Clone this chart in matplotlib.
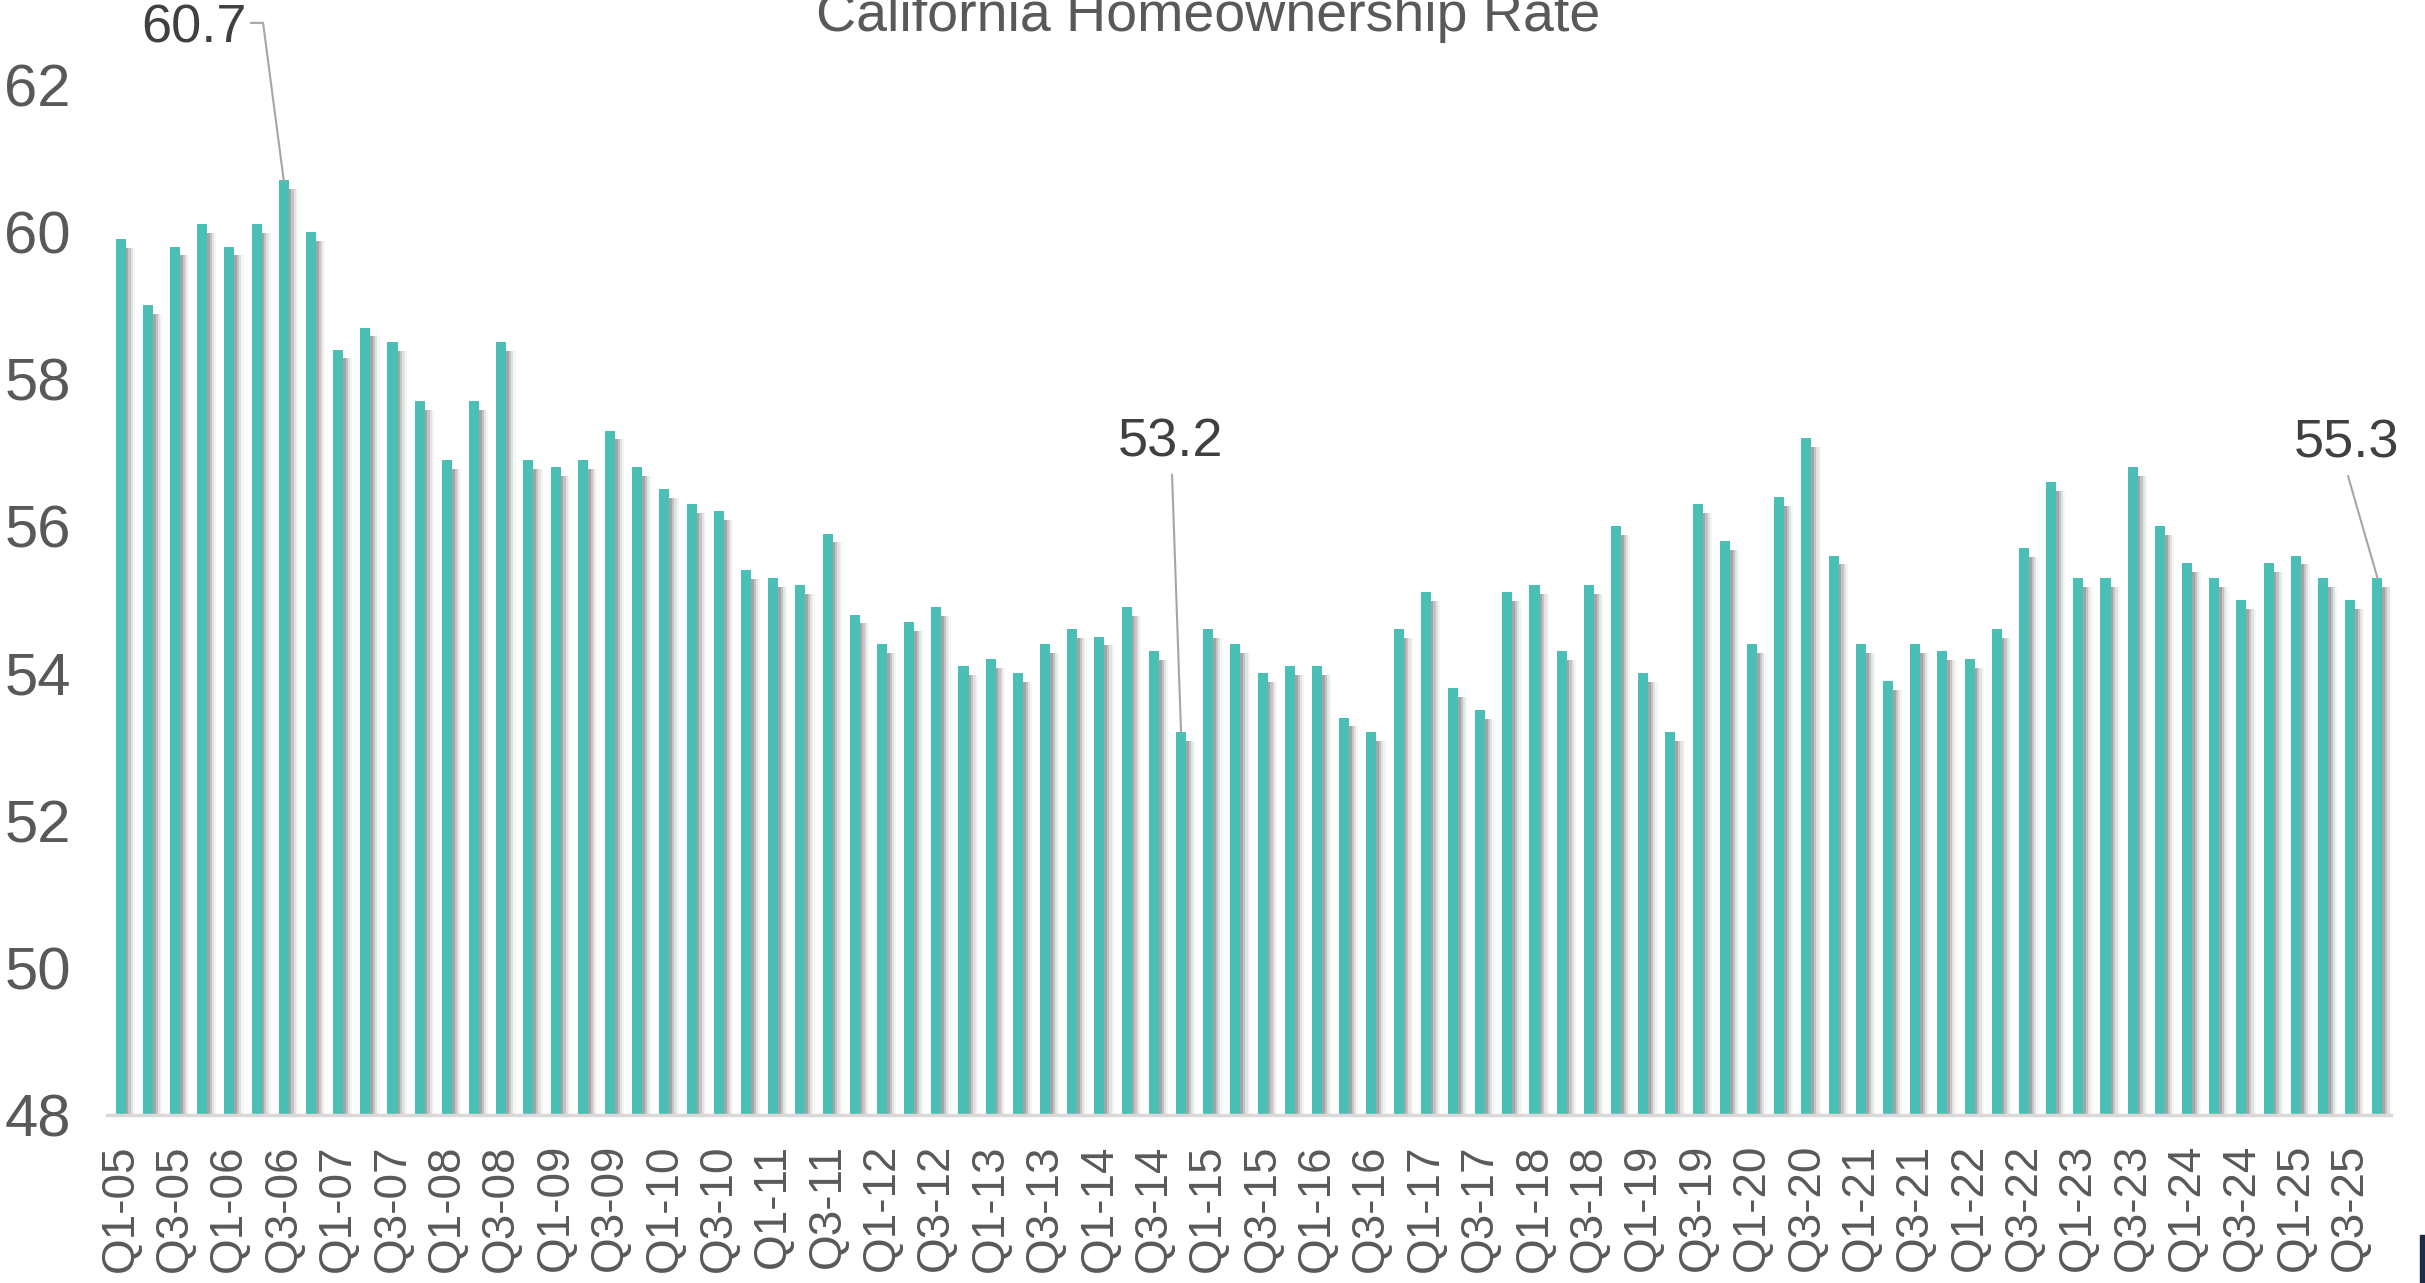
"""California homeownership rate, quarterly bars."""
import matplotlib
matplotlib.use("Agg")
import matplotlib.pyplot as plt
from matplotlib import font_manager
from matplotlib.patches import Rectangle
import numpy as np

# data
years = list(range(5, 26))
quarters = [f"Q{q}-{y:02d}" for y in years for q in (1, 2, 3, 4)]
rates = [
    59.9, 59.0, 59.8, 60.1,  # 2005
    59.8, 60.1, 60.7, 60.0,  # 2006
    58.4, 58.7, 58.5, 57.7,  # 2007
    56.9, 57.7, 58.5, 56.9,  # 2008
    56.8, 56.9, 57.3, 56.8,  # 2009
    56.5, 56.3, 56.2, 55.4,  # 2010
    55.3, 55.2, 55.9, 54.8,  # 2011
    54.4, 54.7, 54.9, 54.1,  # 2012
    54.2, 54.0, 54.4, 54.6,  # 2013
    54.5, 54.9, 54.3, 53.2,  # 2014
    54.6, 54.4, 54.0, 54.1,  # 2015
    54.1, 53.4, 53.2, 54.6,  # 2016
    55.1, 53.8, 53.5, 55.1,  # 2017
    55.2, 54.3, 55.2, 56.0,  # 2018
    54.0, 53.2, 56.3, 55.8,  # 2019
    54.4, 56.4, 57.2, 55.6,  # 2020
    54.4, 53.9, 54.4, 54.3,  # 2021
    54.2, 54.6, 55.7, 56.6,  # 2022
    55.3, 55.3, 56.8, 56.0,  # 2023
    55.5, 55.3, 55.0, 55.5,  # 2024
    55.6, 55.3, 55.0, 55.3,  # 2025
]
y_ticks = [48, 50, 52, 54, 56, 58, 60, 62]
title = "California Homeownership Rate"

# fonts: narrow face for the numbers if it is there
names = {f.name for f in font_manager.fontManager.ttflist}
NUM_FONT = "Liberation Sans Narrow" if "Liberation Sans Narrow" in names else "Liberation Sans"
plt.rcParams["font.family"] = ["Liberation Sans", "DejaVu Sans"]

BAR = "#4abfb5"
GREY_TXT = "#595959"
DARK_TXT = "#404040"

fig = plt.figure(figsize=(24.25, 12.83), dpi=100)
ax = fig.add_axes([107 / 2425, 0.131, (2391 - 107) / 2425, 0.934 - 0.131])

x = np.arange(len(rates))
vals = np.array(rates)

# soft shadow to the right of each bar
for dx, a in [(0.10, 0.45), (0.18, 0.30), (0.26, 0.16), (0.34, 0.07)]:
    ax.bar(x + dx, vals - 0.12, width=0.37, color="#7f7f7f", alpha=a,
           linewidth=0, zorder=1)
ax.bar(x, vals, width=0.37, color=BAR, linewidth=0, zorder=2)

ax.set_xlim(-0.5, len(rates) - 0.5)
ax.set_ylim(48, 62)

for s in ["top", "right", "left"]:
    ax.spines[s].set_visible(False)
ax.spines["bottom"].set_color("#d9d9d9")
ax.spines["bottom"].set_linewidth(2.5)
ax.spines["bottom"].set_zorder(3)

ax.set_yticks(y_ticks)
ax.set_yticklabels([str(v) for v in y_ticks], fontsize=43, color=GREY_TXT,
                   family=NUM_FONT)
ax.tick_params(axis="y", length=0, pad=26)

ax.set_xticks(x[::2])
ax.set_xticklabels(quarters[::2], rotation=90, fontsize=33, color=GREY_TXT)
ax.tick_params(axis="x", length=0, pad=21)

# callouts
i_max = int(np.argmax(vals[:10]))
ax.text(4.65, 62.77, f"{vals[i_max]:.1f}", fontsize=39, color=DARK_TXT,
        family=NUM_FONT, ha="right", va="center", clip_on=False)
ax.plot([4.8, 5.24, i_max], [62.84, 62.84, vals[i_max]], color="#a6a6a6",
        lw=1.5, clip_on=False, zorder=4)

i_low = 39
ax.text(38.6, 57.14, f"{vals[i_low]:.1f}", fontsize=39, color=DARK_TXT,
        family=NUM_FONT, ha="center", va="center")
ax.plot([38.67, i_low], [56.70, vals[i_low]], color="#a6a6a6", lw=1.5, zorder=4)

i_last = len(rates) - 1
ax.text(81.85, 57.12, f"{vals[i_last]:.1f}", fontsize=39, color=DARK_TXT,
        family=NUM_FONT, ha="center", va="center", clip_on=False)
ax.plot([81.92, i_last], [56.68, vals[i_last]], color="#a6a6a6", lw=1.5,
        clip_on=False, zorder=4)

fig.text(1208 / 2425, 1 - 31 / 1283, title, fontsize=40, color=GREY_TXT,
         ha="center", va="baseline")

# bit of a dark logo at the bottom right edge
fig.patches.append(Rectangle((2420 / 2425, 0), 5 / 2425, 48 / 1283,
                             transform=fig.transFigure, color="#1b2a47"))

fig.savefig("out.png", dpi=100)
